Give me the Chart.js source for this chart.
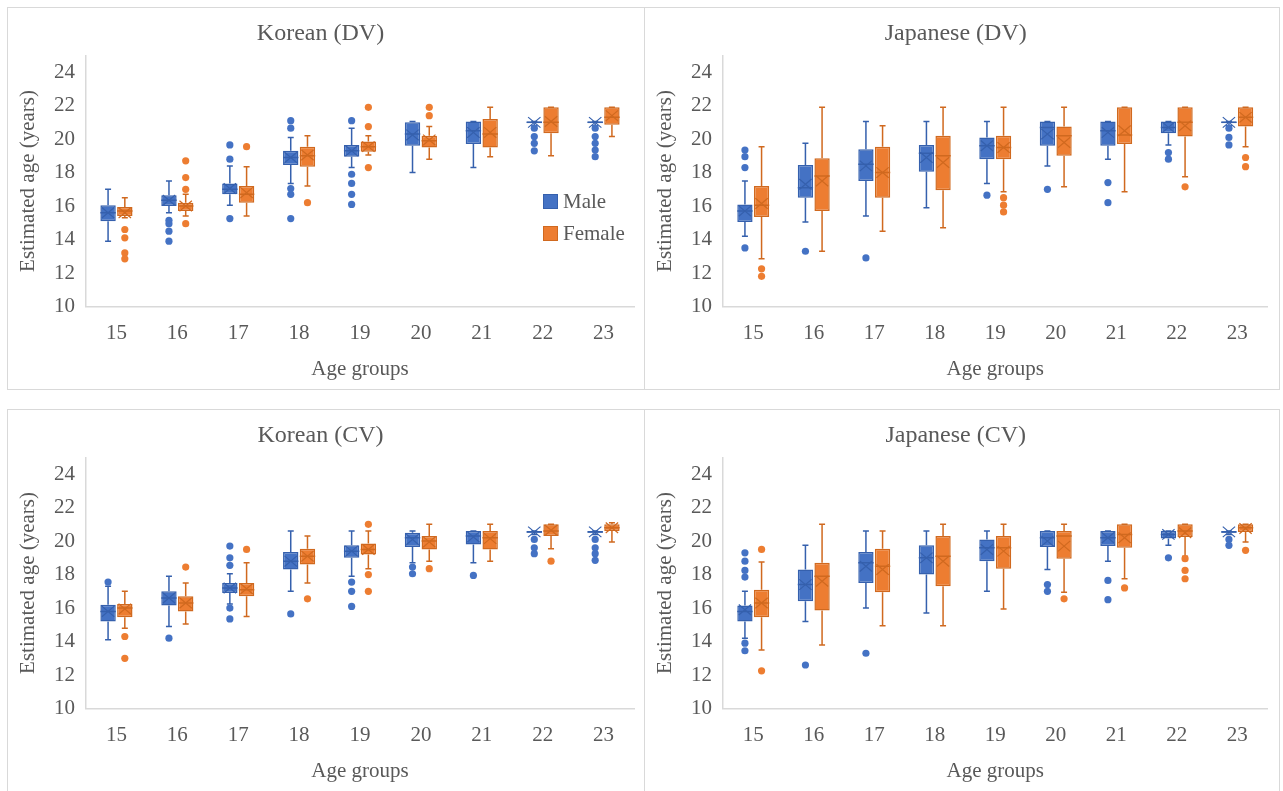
<!DOCTYPE html>
<html>
<head>
<meta charset="utf-8">
<script src="https://cdn.jsdelivr.net/npm/chart.js@4.4.1/dist/chart.umd.min.js"></script>
<style>
    body { margin: 0; background: #fff; width: 1283px; height: 791px; position: relative; overflow: hidden; font-family: "Liberation Serif", serif; }
    .panel { position: absolute; outline: 1px solid #d9d9d9; outline-offset: -1px; }
    .panel canvas { position: absolute; left: 0; top: 0; }
    .leg { position: absolute; font-size: 21px; color: #595959; line-height: 24px; }
    .leg i { position: absolute; left: 0; top: 5px; width: 13px; height: 13px; }
    .leg span { position: absolute; left: 20px; top: 0; white-space: nowrap; }
</style>
</head>
<body>
<div class="panel" style="left:7px;top:7px;width:638px;height:383px"><canvas id="krDv" width="638" height="383"></canvas></div>
<div class="panel" style="left:644px;top:7px;width:636px;height:383px"><canvas id="jpDv" width="636" height="383"></canvas></div>
<div class="panel" style="left:7px;top:409px;width:638px;height:383px"><canvas id="krCv" width="638" height="383"></canvas></div>
<div class="panel" style="left:644px;top:409px;width:636px;height:383px"><canvas id="jpCv" width="636" height="383"></canvas></div>

<div class="leg" style="left:543px;top:189px"><i style="background:#4472c4;border:1px solid #3560ad"></i><span>Male</span></div>
<div class="leg" style="left:543px;top:221px"><i style="background:#ed7d31;border:1px solid #d0691f"></i><span>Female</span></div>

<script>
// Categorias e eixos
const ageGroups = ['15', '16', '17', '18', '19', '20', '21', '22', '23'];
const yTicks = [10, 12, 14, 16, 18, 20, 22, 24];

// Cada linha: [min, q1, mediana, q3, max, média]
const krDvMale = [
    [13.9, 15.1, 15.6, 16.05, 17.0, 15.6],
    [15.6, 16.0, 16.35, 16.65, 17.5, 16.35],
    [16.05, 16.7, 17.0, 17.35, 18.4, 17.05],
    [17.35, 18.45, 18.9, 19.3, 20.1, 18.9],
    [18.3, 18.95, 19.3, 19.65, 20.65, 19.3],
    [18.0, 19.6, 20.3, 21.0, 21.05, 20.25],
    [18.3, 19.7, 20.5, 21.05, 21.05, 20.4],
    [20.8, 20.95, 21.0, 21.05, 21.05, 21.0],
    [20.8, 20.95, 21.0, 21.05, 21.05, 21.0]
];
const krDvMaleOut = [[], [15.15, 14.95, 14.5, 13.9], [19.65, 18.8, 15.25], [21.1, 20.65, 17.05, 16.7, 15.25],
    [21.1, 17.9, 17.35, 16.7, 16.1], [], [], [20.65, 20.15, 19.75, 19.3], [20.65, 20.15, 19.75, 19.35, 18.95]];
const krDvFemale = [
    [15.3, 15.4, 15.7, 15.95, 16.5, 15.6],
    [15.4, 15.7, 16.0, 16.2, 16.7, 16.0],
    [15.4, 16.2, 16.7, 17.2, 18.35, 16.8],
    [17.2, 18.35, 19.0, 19.55, 20.2, 19.05],
    [19.05, 19.25, 19.55, 19.85, 20.2, 19.55],
    [18.8, 19.5, 19.9, 20.2, 20.75, 19.95],
    [18.95, 19.5, 20.3, 21.2, 21.9, 20.4],
    [19.0, 20.35, 21.0, 21.9, 21.9, 21.05],
    [20.15, 20.85, 21.3, 21.9, 21.9, 21.4]
];
const krDvFemaleOut = [[14.6, 14.1, 13.2, 12.85], [18.7, 17.7, 17.0, 14.95], [19.55], [16.2],
    [21.9, 20.75, 18.3], [21.9, 21.4], [], [], []];

const jpDvMale = [
    [14.2, 15.05, 15.7, 16.1, 17.5, 15.7],
    [15.05, 16.5, 17.1, 18.45, 19.75, 17.3],
    [15.4, 17.5, 18.5, 19.4, 21.05, 18.4],
    [15.9, 18.05, 19.15, 19.65, 21.05, 18.9],
    [17.35, 18.8, 19.6, 20.1, 21.05, 19.6],
    [18.4, 19.6, 20.7, 21.05, 21.05, 20.3],
    [18.8, 19.6, 20.5, 21.05, 21.05, 20.4],
    [19.65, 20.35, 20.7, 21.05, 21.05, 20.7],
    [20.8, 20.95, 21.0, 21.05, 21.05, 21.0]
];
const jpDvMaleOut = [[19.35, 18.95, 18.3, 13.5], [13.3], [12.9], [], [16.65], [17.0], [17.4, 16.2], [19.2, 18.8], [20.65, 20.1, 19.65]];
const jpDvFemale = [
    [12.85, 15.35, 16.05, 17.2, 19.55, 16.15],
    [13.3, 15.7, 17.8, 18.85, 21.9, 17.5],
    [14.5, 16.5, 18.0, 19.55, 20.8, 18.0],
    [14.7, 16.95, 19.0, 20.2, 21.9, 18.6],
    [16.85, 18.8, 19.5, 20.2, 21.9, 19.5],
    [17.15, 19.0, 20.2, 20.75, 21.9, 19.8],
    [16.85, 19.7, 20.25, 21.9, 21.9, 20.5],
    [17.75, 20.15, 21.0, 21.9, 21.9, 20.8],
    [19.55, 20.75, 21.3, 21.9, 21.9, 21.3]
];
const jpDvFemaleOut = [[12.25, 11.8], [], [], [], [16.5, 16.05, 15.65], [], [], [17.15], [18.9, 18.35]];

const krCvMale = [
    [14.1, 15.2, 15.8, 16.2, 17.3, 15.8],
    [14.9, 16.15, 16.6, 17.0, 17.9, 16.6],
    [16.25, 16.9, 17.2, 17.5, 18.05, 17.2],
    [17.0, 18.3, 18.8, 19.35, 20.6, 18.8],
    [17.9, 19.0, 19.4, 19.75, 20.6, 19.4],
    [18.7, 19.65, 20.2, 20.5, 20.6, 20.1],
    [18.7, 19.8, 20.3, 20.6, 20.6, 20.25],
    [20.4, 20.5, 20.55, 20.6, 20.6, 20.55],
    [20.4, 20.5, 20.55, 20.6, 20.6, 20.55]
];
const krCvMaleOut = [[17.55], [14.2], [19.7, 19.0, 18.55, 16.0, 15.35], [15.65], [17.55, 17.0, 16.1],
    [18.45, 18.05], [17.95], [20.1, 19.6, 19.25], [20.1, 19.6, 19.25, 18.85]];
const krCvFemale = [
    [14.8, 15.45, 16.0, 16.25, 17.0, 15.95],
    [15.05, 15.8, 16.3, 16.7, 17.5, 16.3],
    [15.5, 16.7, 17.1, 17.5, 18.7, 17.15],
    [17.5, 18.6, 19.1, 19.55, 20.3, 19.1],
    [18.35, 19.2, 19.5, 19.85, 20.6, 19.5],
    [18.8, 19.5, 20.0, 20.3, 21.0, 19.95],
    [18.8, 19.5, 20.2, 20.6, 21.0, 20.15],
    [19.55, 20.3, 20.6, 21.0, 21.0, 20.65],
    [19.95, 20.6, 20.8, 21.0, 21.1, 20.8]
];
const krCvFemaleOut = [[14.3, 13.0], [18.45], [19.5], [16.55], [21.0, 18.0, 17.0], [18.35], [], [18.8], []];

const jpCvMale = [
    [14.2, 15.2, 15.8, 16.15, 17.0, 15.9],
    [15.2, 16.4, 17.4, 18.3, 19.75, 17.4],
    [16.0, 17.5, 18.7, 19.35, 20.6, 18.5],
    [15.7, 18.0, 19.0, 19.75, 20.6, 19.0],
    [17.0, 18.8, 19.6, 20.1, 20.6, 19.5],
    [18.3, 19.65, 20.2, 20.6, 20.6, 20.0],
    [18.8, 19.7, 20.2, 20.6, 20.6, 20.2],
    [19.75, 20.15, 20.4, 20.6, 20.6, 20.4],
    [20.4, 20.5, 20.55, 20.6, 20.6, 20.55]
];
const jpCvMaleOut = [[19.3, 18.8, 18.25, 17.85, 13.9, 13.45], [12.6], [13.3], [], [], [17.4, 17.0], [17.65, 16.5], [19.0], [20.1, 19.75]];
const jpCvFemale = [
    [13.5, 15.45, 16.3, 17.1, 18.75, 16.3],
    [13.8, 15.85, 17.9, 18.7, 21.0, 17.6],
    [14.95, 16.95, 18.5, 19.55, 20.6, 18.3],
    [14.95, 17.3, 19.1, 20.3, 21.0, 18.8],
    [15.95, 18.35, 19.6, 20.3, 21.0, 19.4],
    [16.95, 18.95, 20.3, 20.6, 21.0, 19.7],
    [17.75, 19.6, 20.4, 21.0, 21.0, 20.2],
    [19.1, 20.25, 20.6, 21.0, 21.0, 20.5],
    [19.95, 20.55, 20.8, 21.0, 21.0, 20.75]
];
const jpCvFemaleOut = [[19.5, 12.25], [], [], [], [], [16.55], [17.2], [18.95, 18.25, 17.75], [19.45]];

// Cores (padrão Excel)
const maleFill = '#4472c4', maleLine = '#3560ad';
const femaleFill = '#ed7d31', femaleLine = '#d0691f';
const textColor = '#595959';
const serif = 'Liberation Serif';

// Plugin que desenha bigodes, mediana, média e outliers por cima das caixas
const boxWhisker = {
    id: 'boxWhisker',
    afterDatasetsDraw(chart) {
        const ctx = chart.ctx;
        const ys = chart.scales.y;
        chart.data.datasets.forEach((ds, d) => {
            const meta = chart.getDatasetMeta(d);
            meta.data.forEach((bar, i) => {
                const s = ds.stats[i];
                const x = bar.x, w = bar.width;
                const py = v => ys.getPixelForValue(v);
                ctx.save();
                ctx.strokeStyle = ds.borderColor;
                ctx.lineWidth = 1.5;
                ctx.beginPath();
                // bigodes
                ctx.moveTo(x, py(s[3])); ctx.lineTo(x, py(s[4]));
                ctx.moveTo(x, py(s[1])); ctx.lineTo(x, py(s[0]));
                ctx.moveTo(x - 3, py(s[4])); ctx.lineTo(x + 3, py(s[4]));
                ctx.moveTo(x - 3, py(s[0])); ctx.lineTo(x + 3, py(s[0]));
                // mediana
                ctx.moveTo(x - w / 2, py(s[2])); ctx.lineTo(x + w / 2, py(s[2]));
                ctx.stroke();
                // média (X)
                const hx = w / 2 - 1.5, hy = hx * 0.85, ym = py(s[5]);
                ctx.lineWidth = 1.2;
                ctx.beginPath();
                ctx.moveTo(x - hx, ym - hy); ctx.lineTo(x + hx, ym + hy);
                ctx.moveTo(x + hx, ym - hy); ctx.lineTo(x - hx, ym + hy);
                ctx.stroke();
                // outliers
                ctx.fillStyle = ds.backgroundColor;
                ds.outliers[i].forEach(v => {
                    ctx.beginPath();
                    ctx.arc(x, py(v), 3.6, 0, Math.PI * 2);
                    ctx.fill();
                });
                ctx.restore();
            });
        });
    }
};

function criarGrafico(id, titulo, male, maleOut, female, femaleOut, padRight) {
    const serie = (label, stats, outs, fill, line) => ({
        label: label,
        data: stats.map(r => [r[1], r[3]]),
        stats: stats,
        outliers: outs,
        backgroundColor: fill,
        borderColor: line,
        borderWidth: 1.5,
        borderSkipped: false,
        categoryPercentage: 0.55,
        barPercentage: 0.92
    });

    return new Chart(document.getElementById(id), {
        type: 'bar',
        data: {
            labels: ageGroups,
            datasets: [
                serie('Male', male, maleOut, maleFill, maleLine),
                serie('Female', female, femaleOut, femaleFill, femaleLine)
            ]
        },
        options: {
            responsive: false,
            animation: false,
            layout: { padding: { left: 0, right: padRight, top: 12.6, bottom: 0 } },
            plugins: {
                legend: { display: false },
                tooltip: { enabled: false },
                title: {
                    display: true,
                    text: titulo,
                    color: textColor,
                    font: { family: serif, size: 24, weight: 'normal' },
                    padding: { top: 0, bottom: 7 }
                }
            },
            scales: {
                x: {
                    grid: { display: false, drawTicks: false },
                    border: { display: true, color: '#d9d9d9', width: 1.5 },
                    ticks: { color: textColor, font: { family: serif, size: 21 }, padding: 14 },
                    title: {
                        display: true,
                        text: 'Age groups',
                        color: textColor,
                        font: { family: serif, size: 21 },
                        padding: { top: 0, bottom: 8 }
                    },
                    afterFit: s => { s.height = 83.5; }
                },
                y: {
                    min: 10,
                    max: 25,
                    grid: { display: false, drawTicks: false },
                    border: { display: true, color: '#d9d9d9', width: 1.5 },
                    ticks: { color: textColor, font: { family: serif, size: 21 }, padding: 11 },
                    afterBuildTicks: s => { s.ticks = yTicks.map(v => ({ value: v })); },
                    title: {
                        display: true,
                        text: 'Estimated age (years)',
                        color: textColor,
                        font: { family: serif, size: 21 },
                        padding: { top: 9, bottom: 0 }
                    },
                    afterFit: s => { s.width = 79; }
                }
            }
        },
        plugins: [boxWhisker]
    });
}

criarGrafico('krDv', 'Korean (DV)', krDvMale, krDvMaleOut, krDvFemale, krDvFemaleOut, 11);
criarGrafico('jpDv', 'Japanese (DV)', jpDvMale, jpDvMaleOut, jpDvFemale, jpDvFemaleOut, 12.5);
criarGrafico('krCv', 'Korean (CV)', krCvMale, krCvMaleOut, krCvFemale, krCvFemaleOut, 11);
criarGrafico('jpCv', 'Japanese (CV)', jpCvMale, jpCvMaleOut, jpCvFemale, jpCvFemaleOut, 12.5);
</script>
</body>
</html>
